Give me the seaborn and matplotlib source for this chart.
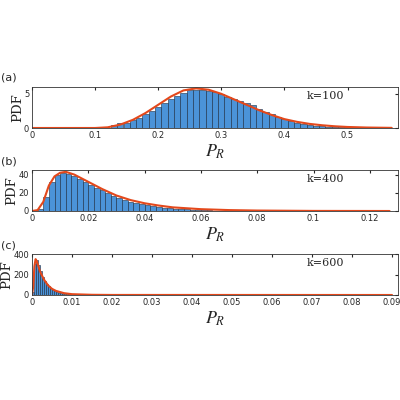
import numpy as np
import matplotlib
matplotlib.use("Agg")
import matplotlib.pyplot as plt
import seaborn as sns

sns.set_style("white")
plt.rcParams['font.family'] = ['DejaVu Sans']
plt.rcParams['mathtext.fontset'] = 'stix'

# Panel (a) k=100
a_start, a_width = 0.125, 0.01
a_heights = [0.5, 0.7, 0.8, 1.1, 1.5, 2.0, 2.5, 3.0, 3.6, 4.2, 4.7, 5.1, 5.5, 5.6, 5.5, 5.4, 5.3, 5.0,
             4.6, 4.2, 3.9, 3.6, 3.3, 2.8, 2.4, 2.0, 1.6, 1.3, 1.0, 0.8, 0.6, 0.45, 0.35, 0.25, 0.2, 0.15, 0.1, 0.08]
a_curve_x = [0.0, 0.10, 0.12, 0.14, 0.16, 0.18, 0.20, 0.22, 0.24, 0.26, 0.28, 0.30, 0.32, 0.34, 0.36, 0.38, 0.40, 0.42, 0.44, 0.46, 0.48, 0.50, 0.53, 0.57]
a_curve_y = [0.0, 0.0, 0.1, 0.5, 1.2, 2.2, 3.4, 4.6, 5.5, 5.8, 5.6, 5.0, 4.2, 3.4, 2.6, 1.9, 1.3, 0.9, 0.6, 0.4, 0.25, 0.15, 0.07, 0.02]

# Panel (b) k=400
b_start, b_width = 0.002, 0.002
b_heights = [2, 15, 32, 40, 42, 41, 38, 35, 32, 28, 25, 23, 20, 17, 14, 12, 10, 9, 8, 6.5, 5.5,
             4.5, 3.8, 3.0, 2.5, 2.0, 1.7, 1.3, 1.0, 0.8, 0.6, 0.4, 0.3, 0.2]
b_curve_x = [0.0, 0.002, 0.004, 0.006, 0.008, 0.010, 0.012, 0.015, 0.020, 0.025, 0.030, 0.035, 0.040, 0.045, 0.050, 0.060, 0.070, 0.080, 0.100, 0.127]
b_curve_y = [0.0, 1.0, 10, 28, 38, 42, 43, 40, 32, 24, 17, 12, 8.5, 6, 4, 2, 1, 0.5, 0.1, 0.0]

# Panel (c) k=600
c_start, c_width = 0.0, 0.0005
c_heights = [30, 300, 340, 290, 230, 180, 140, 110, 85, 65, 50, 40, 30, 22, 17, 13, 10, 8, 6, 4, 3, 2, 1.5, 1]
c_curve_x = [0.0, 0.0003, 0.0006, 0.0009, 0.0012, 0.0016, 0.002, 0.003, 0.004, 0.005, 0.006, 0.008, 0.010, 0.015, 0.02, 0.09]
c_curve_y = [0, 80, 280, 350, 330, 280, 230, 150, 95, 60, 40, 18, 8, 2, 0.5, 0]

panels = [
    ("(a)", "k=100", a_start, a_width, a_heights, a_curve_x, a_curve_y, (0, 0.58), (0, 6), [0, 5],
     [0, 0.1, 0.2, 0.3, 0.4, 0.5], ["0", "0.1", "0.2", "0.3", "0.4", "0.5"], 0.68),
    ("(b)", "k=400", b_start, b_width, b_heights, b_curve_x, b_curve_y, (0, 0.13), (0, 45), [0, 20, 40],
     [0, 0.02, 0.04, 0.06, 0.08, 0.1, 0.12], ["0", "0.02", "0.04", "0.06", "0.08", "0.1", "0.12"], 0.4725),
    ("(c)", "k=600", c_start, c_width, c_heights, c_curve_x, c_curve_y, (0, 0.0915), (0, 400), [0, 200, 400],
     [0, 0.01, 0.02, 0.03, 0.04, 0.05, 0.06, 0.07, 0.08, 0.09],
     ["0", "0.01", "0.02", "0.03", "0.04", "0.05", "0.06", "0.07", "0.08", "0.09"], 0.2625),
]

fig = plt.figure(figsize=(4, 4), dpi=100)
for lab, ktxt, start, width, heights, cx, cy, xl, yl, yt, xt, xtl, bottom in panels:
    ax = fig.add_axes([0.08, bottom, 0.915, 0.1025])
    n = len(heights)
    centers = [start + width * (i + 0.5) for i in range(n)]
    edges = [start + width * i for i in range(n + 1)]
    sns.histplot(x=centers, weights=heights, bins=edges, ax=ax, color="#4b93d8",
                 edgecolor="#1a2a40", linewidth=0.4, alpha=1.0)
    sns.lineplot(x=cx, y=cy, ax=ax, color="#e4481b", linewidth=1.5)
    ax.set_xlim(*xl)
    ax.set_ylim(*yl)
    ax.set_yticks(yt)
    ax.set_xticks(xt)
    ax.set_xticklabels(xtl)
    ax.tick_params(direction="in", length=2.5, labelsize=6, top=True, right=True, pad=2)
    for s in ax.spines.values():
        s.set_linewidth(0.6)
        s.set_color("#333333")
    ax.set_ylabel("PDF", family="serif", fontsize=9.5, labelpad=0)
    ax.set_xlabel("$P_R$", fontsize=13, labelpad=2)
    ax.text(0.75, 0.78, ktxt, transform=ax.transAxes, family="serif", fontsize=8, va="center")
    fig.text(0.003, bottom + 0.1025 + 0.015, lab, fontsize=8)

fig.savefig("out.png", dpi=100)
